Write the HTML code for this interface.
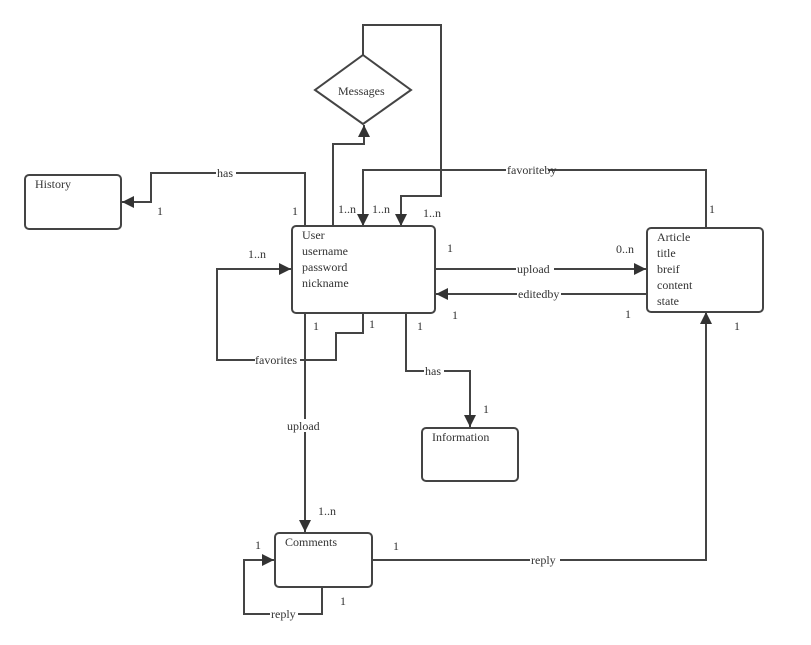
<!DOCTYPE html>
<html><head><meta charset="utf-8"><style>
html,body{margin:0;padding:0;background:#fff}
svg{display:block}
text{font-family:"Liberation Serif",serif;font-size:12px;fill:#333}
.l{fill:none;stroke:#444;stroke-width:2}
.b{fill:#fff;stroke:#444;stroke-width:2}
.lb{fill:#fff}
</style></head><body>
<svg width="811" height="645" viewBox="0 0 811 645">
<defs>
<marker id="a" viewBox="0 0 10 10" refX="10" refY="5" markerWidth="7" markerHeight="7" markerUnits="userSpaceOnUse" orient="auto">
<path d="M0,0 L10,5 L0,10z" fill="#333"/></marker>
<marker id="A" viewBox="0 0 10 10" refX="10" refY="5" markerWidth="14" markerHeight="12" markerUnits="userSpaceOnUse" orient="auto">
<path d="M0,0 L10,5 L0,10z" fill="#333"/></marker>
</defs>
<!-- connectors -->
<polyline class="l" points="305,226 305,173 151,173 151,202 122,202" marker-end="url(#A)"/>
<polyline class="l" points="333,226 333,144 364,144 364,125" marker-end="url(#A)"/>
<polyline class="l" points="363,55 363,25 441,25 441,196 401,196 401,226" marker-end="url(#A)"/>
<polyline class="l" points="706,228 706,170 363,170 363,226" marker-end="url(#A)"/>
<polyline class="l" points="435,269 646,269" marker-end="url(#A)"/>
<polyline class="l" points="647,294 436,294" marker-end="url(#A)"/>
<polyline class="l" points="363,313 363,333 336,333 336,360 217,360 217,269 291,269" marker-end="url(#A)"/>
<polyline class="l" points="305,313 305,532" marker-end="url(#A)"/>
<polyline class="l" points="406,313 406,371 470,371 470,427" marker-end="url(#A)"/>
<polyline class="l" points="372,560 706,560 706,312" marker-end="url(#A)"/>
<polyline class="l" points="322,587 322,614 244,614 244,560 274,560" marker-end="url(#A)"/>
<!-- shapes -->
<rect class="b" x="25" y="175" width="96" height="54" rx="4"/>
<rect class="b" x="292" y="226" width="143" height="87" rx="4"/>
<rect class="b" x="647" y="228" width="116" height="84" rx="4"/>
<rect class="b" x="422" y="428" width="96" height="53" rx="4"/>
<rect class="b" x="275" y="533" width="97" height="54" rx="4"/>
<polygon class="b" points="363,55 411,90 363,124 315,90"/>
<!-- box text -->
<text x="35" y="188">History</text>
<text x="338" y="95">Messages</text>
<text x="302" y="239">User</text>
<text x="302" y="255">username</text>
<text x="302" y="271">password</text>
<text x="302" y="287">nickname</text>
<text x="657" y="241">Article</text>
<text x="657" y="257">title</text>
<text x="657" y="273">breif</text>
<text x="657" y="289">content</text>
<text x="657" y="305">state</text>
<text x="432" y="441">Information</text>
<text x="285" y="546">Comments</text>
<!-- connector labels -->
<rect class="lb" x="216" y="166" width="20" height="13"/><text x="217" y="177">has</text>
<rect class="lb" x="506" y="163" width="42" height="13"/><text x="507" y="174">favoriteby</text>
<rect class="lb" x="516" y="262" width="38" height="13"/><text x="517" y="273">upload</text>
<rect class="lb" x="517" y="287" width="44" height="13"/><text x="518" y="298">editedby</text>
<rect class="lb" x="255" y="353" width="45" height="13"/><text x="255" y="364">favorites</text>
<rect class="lb" x="286" y="419" width="38" height="13"/><text x="287" y="430">upload</text>
<rect class="lb" x="424" y="364" width="20" height="13"/><text x="425" y="375">has</text>
<rect class="lb" x="530" y="553" width="30" height="13"/><text x="531" y="564">reply</text>
<rect class="lb" x="270" y="607" width="28" height="13"/><text x="271" y="618">reply</text>
<!-- cardinalities -->
<text x="157" y="215">1</text>
<text x="292" y="215">1</text>
<text x="338" y="213">1..n</text>
<text x="372" y="213">1..n</text>
<text x="423" y="217">1..n</text>
<text x="709" y="213">1</text>
<text x="447" y="252">1</text>
<text x="248" y="258">1..n</text>
<text x="616" y="253">0..n</text>
<text x="452" y="319">1</text>
<text x="625" y="318">1</text>
<text x="734" y="330">1</text>
<text x="313" y="330">1</text>
<text x="369" y="328">1</text>
<text x="417" y="330">1</text>
<text x="483" y="413">1</text>
<text x="318" y="515">1..n</text>
<text x="255" y="549">1</text>
<text x="393" y="550">1</text>
<text x="340" y="605">1</text>
</svg>
</body></html>
